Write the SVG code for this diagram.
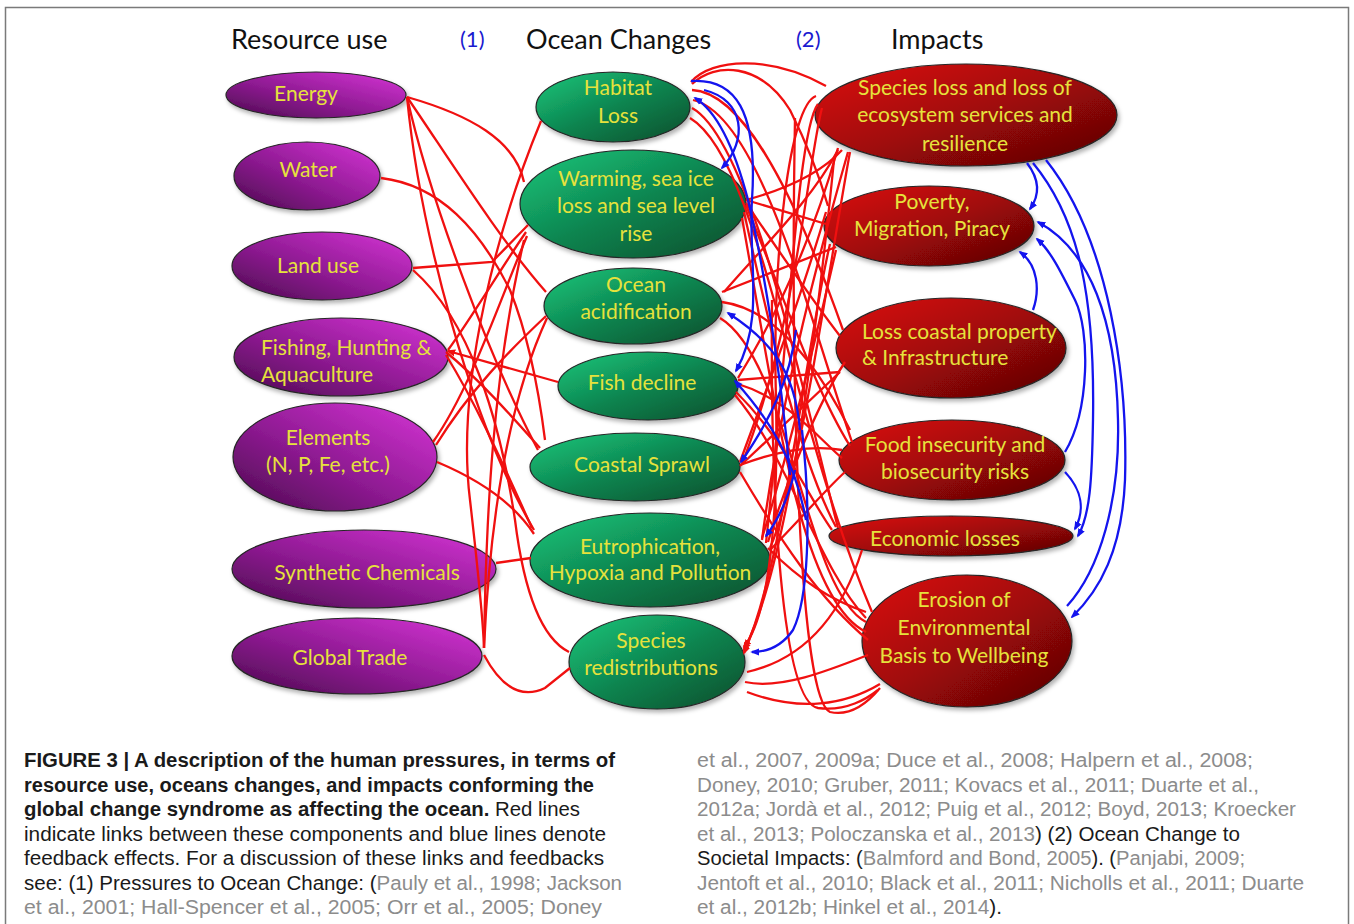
<svg xmlns="http://www.w3.org/2000/svg" width="1354" height="924" viewBox="0 0 1354 924">
<defs>
  <linearGradient id="gP" x1="0" y1="1" x2="1" y2="0">
    <stop offset="0" stop-color="#4a0a4c"/>
    <stop offset="0.45" stop-color="#8e1a92"/>
    <stop offset="1" stop-color="#d836d8"/>
  </linearGradient>
  <linearGradient id="gG" x1="0" y1="0" x2="1" y2="1">
    <stop offset="0" stop-color="#18c87c"/>
    <stop offset="0.5" stop-color="#0e8550"/>
    <stop offset="1" stop-color="#0a4d2b"/>
  </linearGradient>
  <linearGradient id="gR" x1="0" y1="0" x2="1" y2="1">
    <stop offset="0" stop-color="#dc1414"/>
    <stop offset="0.5" stop-color="#a00808"/>
    <stop offset="1" stop-color="#560404"/>
  </linearGradient>
  <filter id="sh" x="-10%" y="-10%" width="125%" height="130%">
    <feDropShadow dx="2" dy="3" stdDeviation="2" flood-color="#000" flood-opacity="0.3"/>
  </filter>
  <marker id="ab" viewBox="0 0 10 10" refX="8" refY="5" markerWidth="9" markerHeight="9" markerUnits="userSpaceOnUse" orient="auto">
    <path d="M0,1 L10,5 L0,9 z" fill="#1414ee"/>
  </marker>
  <marker id="ar" viewBox="0 0 10 10" refX="8" refY="5" markerWidth="9" markerHeight="9" markerUnits="userSpaceOnUse" orient="auto">
    <path d="M0,1 L10,5 L0,9 z" fill="#f01010"/>
  </marker>
</defs>
<style>
  .n ellipse { stroke:#262626; stroke-width:1.2; filter:url(#sh); }
  .p ellipse { fill:url(#gP); }
  .g ellipse { fill:url(#gG); }
  .d ellipse { fill:url(#gR); }
  .n text { font-family:Lato, "Open Sans", sans-serif; font-size:21px; fill:#e6e23c; text-anchor:middle; }
  .n text.l { text-anchor:start; }
  .hd { font-family:Lato, "Open Sans", sans-serif; font-size:27px; fill:#111; }
  .num { font-family:Lato, "Open Sans", sans-serif; font-size:22px; fill:#1a1ad0; }
  .r { fill:none; stroke:#f01010; stroke-width:2.3; }
  .ra { marker-end:url(#ar); }
  .b { fill:none; stroke:#1414ee; stroke-width:2.3; marker-end:url(#ab); }
  .cap { font-family:"Liberation Sans Narrow", "Liberation Sans", Arial, sans-serif; font-size:19.5px; fill:#1a1a1a; }
  .bd { font-weight:bold; }
  .gr { fill:#8c8c8c; }
</style>

<rect x="5.5" y="7.5" width="1343" height="940" fill="#fff" stroke="#7a7a7a" stroke-width="1.5"/>

<g id="headers">
  <text class="hd" x="231" y="49">Resource use</text>
  <text class="num" x="460" y="47">(1)</text>
  <text class="hd" x="526" y="49">Ocean Changes</text>
  <text class="num" x="796" y="47">(2)</text>
  <text class="hd" x="891" y="49">Impacts</text>
</g>

<g id="n-energy" class="n p"><ellipse cx="316" cy="95" rx="90" ry="23"/><text x="306" y="101">Energy</text></g>
<g id="n-water" class="n p"><ellipse cx="307" cy="176" rx="73" ry="34"/><text x="308" y="177">Water</text></g>
<g id="n-landuse" class="n p"><ellipse cx="322" cy="266" rx="90" ry="34"/><text x="318" y="273">Land use</text></g>
<g id="n-fishing" class="n p"><ellipse cx="341" cy="357" rx="107" ry="39"/><text class="l" x="261" y="355">Fishing, Hunting &amp;</text><text class="l" x="261" y="382">Aquaculture</text></g>
<g id="n-elements" class="n p"><ellipse cx="335" cy="457" rx="102" ry="54"/><text x="328" y="445">Elements</text><text x="328" y="472">(N, P, Fe, etc.)</text></g>
<g id="n-synthetic" class="n p"><ellipse cx="364" cy="569" rx="132" ry="39"/><text x="367" y="580">Synthetic Chemicals</text></g>
<g id="n-trade" class="n p"><ellipse cx="357" cy="656" rx="125" ry="38"/><text x="350" y="665">Global Trade</text></g>

<g id="n-habitat" class="n g"><ellipse cx="613" cy="107" rx="77" ry="35"/><text x="618" y="95">Habitat</text><text x="618" y="123">Loss</text></g>
<g id="n-warming" class="n g"><ellipse cx="633" cy="204" rx="113" ry="54"/><text x="636" y="186">Warming, sea ice</text><text x="636" y="213">loss and sea level</text><text x="636" y="241">rise</text></g>
<g id="n-acid" class="n g"><ellipse cx="633" cy="306" rx="89" ry="38"/><text x="636" y="292">Ocean</text><text x="636" y="319">acidification</text></g>
<g id="n-fish" class="n g"><ellipse cx="648" cy="386" rx="90" ry="34"/><text x="642" y="390">Fish decline</text></g>
<g id="n-sprawl" class="n g"><ellipse cx="635" cy="467" rx="105" ry="34"/><text x="642" y="472">Coastal Sprawl</text></g>
<g id="n-eutro" class="n g"><ellipse cx="650" cy="560" rx="120" ry="47"/><text x="650" y="554">Eutrophication,</text><text x="650" y="580">Hypoxia and Pollution</text></g>
<g id="n-redist" class="n g"><ellipse cx="657" cy="662" rx="88" ry="47"/><text x="651" y="648">Species</text><text x="651" y="675">redistributions</text></g>

<g id="n-species" class="n d"><ellipse cx="966" cy="115" rx="151" ry="51"/><text x="965" y="95">Species loss and loss of</text><text x="965" y="122">ecosystem services and</text><text x="965" y="151">resilience</text></g>
<g id="n-poverty" class="n d"><ellipse cx="929" cy="226" rx="105" ry="40"/><text x="932" y="209">Poverty,</text><text x="932" y="236">Migration, Piracy</text></g>
<g id="n-coastal" class="n d"><ellipse cx="951" cy="348" rx="115" ry="50"/><text class="l" x="862" y="339">Loss coastal property</text><text class="l" x="862" y="365">&amp; Infrastructure</text></g>
<g id="n-food" class="n d"><ellipse cx="952" cy="460" rx="113" ry="40"/><text x="955" y="452">Food insecurity and</text><text x="955" y="479">biosecurity risks</text></g>
<g id="n-econ" class="n d"><ellipse cx="951" cy="536" rx="122" ry="20"/><text x="945" y="546">Economic losses</text></g>
<g id="n-erosion" class="n d"><ellipse cx="967" cy="641" rx="105" ry="66"/><text x="964" y="607">Erosion of</text><text x="964" y="635">Environmental</text><text x="964" y="663">Basis to Wellbeing</text></g>

<g id="connectors">
  <path class="r" d="M407,97 C470,115 515,140 524,182"/>
  <path class="r" d="M407,97 C450,160 500,240 546,292"/>
  <path class="r" d="M407,97 C430,200 490,360 538,450"/>
  <path class="r" d="M407,97 C420,230 470,420 534,530"/>
  <path class="r" d="M381,178 C440,185 480,230 510,290 C530,340 540,400 545,440"/>
  <path class="r" d="M413,268 L492,262 L528,225"/>
  <path class="r" d="M413,270 C470,320 500,420 515,520 C525,600 545,640 569,652"/>
  <path class="r" d="M541,121 C500,220 455,380 470,500 C478,570 483,620 484,648"/>
  <path class="r" d="M433,442 C470,390 500,300 527,236"/>
  <path class="r" d="M437,462 C480,480 515,505 534,534"/>
  <path class="r ra" d="M558,382 L448,351"/>
  <path class="r" d="M526,232 C500,270 470,320 448,350"/>
  <path class="r" d="M446,352 C480,380 515,420 540,448"/>
  <path class="r" d="M446,355 C480,410 510,480 532,528"/>
  <path class="r" d="M496,563 L531,558"/>
  <path class="r" d="M484,648 C488,560 500,420 547,318"/>
  <path class="r" d="M484,648 C486,520 492,380 524,240"/>
  <path class="r" d="M484,655 C500,685 520,700 545,688 L570,668"/>
  <path class="r" d="M546,316 C510,350 470,390 436,445"/>

  <path class="r" d="M691,82 C712,58 770,55 826,86"/>
  <path class="r" d="M692,84 C715,62 760,62 790,110 C810,150 822,185 828,206"/>
  <path class="r" d="M692,90 C740,92 790,180 843,330"/>
  <path class="r" d="M693,100 C760,115 810,320 852,442"/>
  <path class="r" d="M692,108 C750,140 800,380 838,528"/>
  <path class="r" d="M690,118 C760,160 790,420 872,612"/>
  <path class="r ra" d="M816,96 C790,105 772,250 776,400 C779,540 765,620 744,647"/>
  <path class="r" d="M818,104 C798,130 790,320 766,543"/>
  <path class="r" d="M822,108 C808,160 798,320 742,464"/>
  <path class="r" d="M838,148 C815,230 780,310 738,378"/>
  <path class="r" d="M746,200 C790,188 822,172 842,150"/>
  <path class="r" d="M746,200 L826,224"/>
  <path class="r" d="M746,203 C785,260 812,300 840,336"/>
  <path class="r" d="M746,205 C785,300 815,390 850,446"/>
  <path class="r" d="M744,212 C770,330 800,460 836,527"/>
  <path class="r" d="M742,218 C775,400 800,600 866,632"/>
  <path class="r" d="M722,292 L836,247"/>
  <path class="r" d="M722,302 C782,310 825,380 850,430"/>
  <path class="r" d="M720,318 C790,360 805,590 866,622"/>
  <path class="r" d="M738,380 L840,372"/>
  <path class="r" d="M738,384 C790,400 820,440 842,458"/>
  <path class="r" d="M736,392 C785,440 810,500 832,530"/>
  <path class="r" d="M735,395 C790,460 820,570 866,618"/>
  <path class="r" d="M740,466 L840,372"/>
  <path class="r" d="M740,465 C780,450 815,445 842,450"/>
  <path class="r" d="M740,472 C780,540 820,600 868,640"/>
  <path class="r" d="M768,548 C800,580 830,600 866,612"/>
  <path class="r" d="M762,538 C790,450 820,320 836,250"/>
  <path class="r" d="M762,540 C780,400 820,250 848,152"/>
  <path class="r ra" d="M834,160 C820,300 790,560 744,650"/>
  <path class="r ra" d="M830,244 C805,350 785,560 744,653"/>
  <path class="r" d="M747,672 C800,660 840,620 862,550"/>
  <path class="r" d="M747,692 C800,712 845,705 880,684"/>
  <path class="r" d="M795,118 C790,400 800,700 830,712 C852,717 870,700 880,688"/>
  <path class="r" d="M772,300 C770,500 782,702 818,708 C846,712 868,698 878,690"/>
  <path class="r" d="M745,682 C780,690 830,670 868,655"/>
  <path class="r" d="M838,150 C812,200 760,250 724,292"/>
  <path class="r" d="M850,152 C830,260 800,480 770,548"/>
  <path class="r" d="M826,212 C800,300 770,380 740,462"/>
  <path class="r" d="M770,550 C800,520 825,490 845,472"/>
  <path class="r" d="M768,542 C790,470 820,400 845,362"/>

  <path class="b" d="M691,81 C735,78 758,110 752,200 C748,260 765,320 736,371"/>
  <path class="b" d="M790,475 C780,360 760,250 748,200 C735,150 718,112 695,98"/>
  <path class="b" d="M704,90 C745,100 748,140 722,168"/>
  <path class="b" d="M800,430 C795,370 770,340 728,313"/>
  <path class="b" d="M796,330 C790,380 770,420 741,462"/>
  <path class="b" d="M806,520 C795,460 770,420 735,381"/>
  <path class="b" d="M795,470 C788,500 778,520 766,536"/>
  <path class="b" d="M802,430 C812,520 808,600 793,630 C782,646 768,652 752,652"/>

  <path class="b" d="M1027,163 C1040,180 1040,195 1030,209"/>
  <path class="b" d="M1033,163 C1080,220 1095,300 1093,420 C1092,480 1090,515 1078,536"/>
  <path class="b" d="M1046,160 C1110,240 1128,380 1125,480 C1122,550 1100,590 1072,617"/>
  <path class="b" d="M1067,606 C1100,570 1120,500 1118,420 C1116,320 1090,250 1038,222"/>
  <path class="b" d="M1065,452 C1090,410 1090,330 1075,300 C1060,270 1050,250 1037,239"/>
  <path class="b" d="M1033,310 C1040,290 1038,265 1020,252"/>
  <path class="b" d="M1065,472 C1082,490 1085,510 1075,529"/>
</g>

<g id="caption">
  <text class="cap bd" x="24" y="767" textLength="591" lengthAdjust="spacingAndGlyphs">FIGURE 3 | A description of the human pressures, in terms of</text>
  <text class="cap bd" x="24" y="791.5" textLength="570" lengthAdjust="spacingAndGlyphs">resource use, oceans changes, and impacts conforming the</text>
  <text class="cap" x="24" y="816" textLength="556" lengthAdjust="spacingAndGlyphs"><tspan class="bd">global change syndrome as affecting the ocean.</tspan> Red lines</text>
  <text class="cap" x="24" y="840.5" textLength="582" lengthAdjust="spacingAndGlyphs">indicate links between these components and blue lines denote</text>
  <text class="cap" x="24" y="865" textLength="580" lengthAdjust="spacingAndGlyphs">feedback effects. For a discussion of these links and feedbacks</text>
  <text class="cap" x="24" y="889.5" textLength="598" lengthAdjust="spacingAndGlyphs">see: (1) Pressures to Ocean Change: (<tspan class="gr">Pauly et al., 1998; Jackson</tspan></text>
  <text class="cap gr" x="24" y="914" textLength="578" lengthAdjust="spacingAndGlyphs">et al., 2001; Hall-Spencer et al., 2005; Orr et al., 2005; Doney</text>

  <text class="cap gr" x="697" y="767" textLength="556" lengthAdjust="spacingAndGlyphs">et al., 2007, 2009a; Duce et al., 2008; Halpern et al., 2008;</text>
  <text class="cap gr" x="697" y="791.5" textLength="562" lengthAdjust="spacingAndGlyphs">Doney, 2010; Gruber, 2011; Kovacs et al., 2011; Duarte et al.,</text>
  <text class="cap gr" x="697" y="816" textLength="599" lengthAdjust="spacingAndGlyphs">2012a; Jordà et al., 2012; Puig et al., 2012; Boyd, 2013; Kroecker</text>
  <text class="cap" x="697" y="840.5" textLength="543" lengthAdjust="spacingAndGlyphs"><tspan class="gr">et al., 2013; Poloczanska et al., 2013</tspan>) (2) Ocean Change to</text>
  <text class="cap" x="697" y="865" textLength="548" lengthAdjust="spacingAndGlyphs">Societal Impacts: (<tspan class="gr">Balmford and Bond, 2005</tspan>). (<tspan class="gr">Panjabi, 2009;</tspan></text>
  <text class="cap gr" x="697" y="889.5" textLength="607" lengthAdjust="spacingAndGlyphs">Jentoft et al., 2010; Black et al., 2011; Nicholls et al., 2011; Duarte</text>
  <text class="cap" x="697" y="914" textLength="305" lengthAdjust="spacingAndGlyphs"><tspan class="gr">et al., 2012b; Hinkel et al., 2014</tspan>).</text>
</g>
</svg>
